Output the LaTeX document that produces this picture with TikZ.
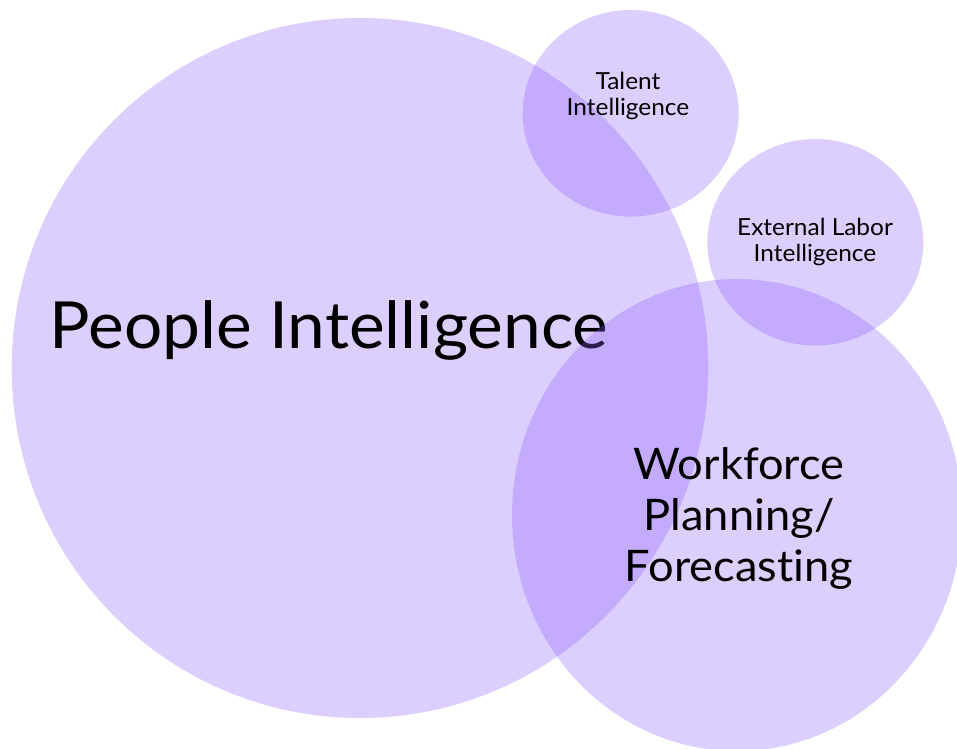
\documentclass[tikz,border=0pt]{standalone}
\usepackage{fontspec}
\setmainfont{Lato}[FakeStretch=1.04,Ligatures=NoCommon]
\definecolor{lilac}{RGB}{143,96,252}
\begin{document}
\begin{tikzpicture}[x=1pt,y=-1pt,
  blob/.style={fill=lilac,fill opacity=0.31},
  txt/.style={text=black,align=center,inner sep=0pt,anchor=base}]
\useasboundingbox (0,0) rectangle (957,748);
% large circle and its heading
\fill[blob] (360,368) ellipse [x radius=348.3, y radius=350];
\node[txt,font=\fontsize{65}{78}\selectfont] (people) at (329,348) {People Intelligence};
% smaller circles
\fill[blob] (630.7,113.3) ellipse [x radius=108, y radius=103.3];
\fill[blob] (815.3,242.3) ellipse [x radius=108, y radius=103.3];
\fill[blob] (737,515) ellipse [x radius=225, y radius=236];
% labels (anchored on the baseline of their last line)
\node[txt,font=\fontsize{23.5}{26.4}\selectfont] (talent) at (628,115.7) {Talent\\Intelligence};
\node[txt,font=\fontsize{23.5}{26.4}\selectfont] (labor) at (815,261.7) {External Labor\\Intelligence};
\node[txt,font=\fontsize{43.5}{51.3}\selectfont] (workforce) at (739,581.7) {Workforce\\Planning/\\Forecasting};
\end{tikzpicture}
\end{document}
